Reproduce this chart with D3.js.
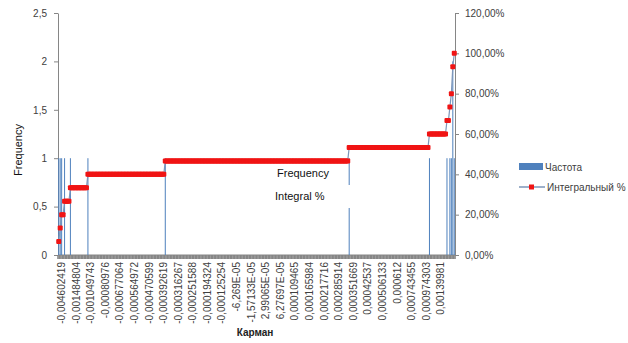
<!DOCTYPE html>
<html>
<head>
<meta charset="utf-8">
<script src="https://cdn.jsdelivr.net/npm/d3@7"></script>
<style>
  html, body { margin: 0; padding: 0; background: #fff; }
  text { font-family: "Liberation Sans", Arial, sans-serif; }
</style>
</head>
<body>
<svg id="chart" width="628" height="343"></svg>
<script>
// Histogram: number of bins on the category axis, label shown every 10th bin
const binCount = 272;
const labelEvery = 10;
const binLabels = [
  "-0,004602419", "-0,001484804", "-0,001049743", "-0,00080976", "-0,000677064",
  "-0,000564972", "-0,000470599", "-0,000392619", "-0,000316267", "-0,000251588",
  "-0,000194324", "-0,000125254", "-6,269E-05", "-1,57133E-05", "2,99065E-05",
  "6,27697E-05", "0,000109465", "0,000165984", "0,000217716", "0,000285914",
  "0,000351669", "0,00042537", "0,000506133", "0,000612", "0,000743455",
  "0,000974303", "0,00139981"
];
// Non-empty bins (index) and their frequencies; all other bins are 0
const filledBins = [0, 1, 2, 4, 8, 20, 73, 199, 254, 266, 268, 269, 270, 271];
const filledCounts = [1, 1, 1, 1, 1, 1, 1, 1, 1, 1, 1, 1, 2, 1];
const freqTicks = [0, 0.5, 1, 1.5, 2, 2.5];
const pctTicks = [0, 20, 40, 60, 80, 100, 120];
const seriesNames = ["Частота", "Интегральный %"];

// Frequency table and integral (cumulative) percentage per bin
const freq = new Array(binCount).fill(0);
filledBins.forEach((b, i) => { freq[b] = filledCounts[i]; });
const total = d3.sum(freq);
let running = 0;
const rows = freq.map((f, i) => {
  running += f;
  return { bin: i, freq: f, pct: running / total * 100 };
});

const svg = d3.select("#chart");
const plotL = 58, plotR = 455, plotT = 13, plotB = 255;
const axisGrey = "#868686", labelCol = "#404040";
const barCol = "#4f81bd", lineCol = "#7d96b9", markCol = "#f01414";

const x = d3.scaleBand().domain(d3.range(binCount)).range([plotL, plotR]).paddingInner(0).paddingOuter(0);
const yL = d3.scaleLinear().domain([0, 2.5]).range([plotB, plotT]);
const yR = d3.scaleLinear().domain([0, 120]).range([plotB, plotT]);
const cx = i => x(i) + x.bandwidth() / 2;

// Left axis
const gL = svg.append("g").attr("transform", `translate(${plotL},0)`)
  .call(d3.axisLeft(yL).tickValues(freqTicks).tickSize(4).tickSizeOuter(0).tickPadding(7)
    .tickFormat(d => String(d).replace(".", ",")));
// Right axis
const gR = svg.append("g").attr("transform", `translate(${plotR},0)`)
  .call(d3.axisRight(yR).tickValues(pctTicks).tickSize(4).tickSizeOuter(0).tickPadding(6)
    .tickFormat(d => d.toFixed(2).replace(".", ",") + "%"));
[gL, gR].forEach(g => {
  g.select(".domain").attr("stroke", axisGrey);
  g.selectAll(".tick line").attr("stroke", axisGrey);
  g.selectAll(".tick text").attr("fill", labelCol).style("font-size", "10px")
    .style("font-family", "'Liberation Sans', Arial, sans-serif");
});

// Category axis: line, a tick mark between every bin (they merge into a band), rotated labels
const gX = svg.append("g");
gX.append("line").attr("x1", plotL).attr("x2", plotR).attr("y1", plotB).attr("y2", plotB)
  .attr("stroke", axisGrey);
gX.selectAll("line.tk").data(d3.range(binCount + 1)).join("line").attr("class", "tk")
  .attr("x1", d => plotL + d * x.step()).attr("x2", d => plotL + d * x.step())
  .attr("y1", plotB).attr("y2", plotB + 4).attr("stroke", axisGrey).attr("stroke-width", 1.6);
gX.selectAll("text").data(binLabels).join("text")
  .attr("transform", (d, k) => `translate(${cx(k * labelEvery)},${plotB + 7}) rotate(-90)`)
  .attr("text-anchor", "end").attr("dy", "0.62em")
  .attr("fill", labelCol).style("font-size", "10px").text(d => d);

// Frequency bars
svg.append("g").selectAll("rect").data(rows.filter(r => r.freq > 0)).join("rect")
  .attr("x", d => cx(d.bin) - 0.5).attr("width", 1)
  .attr("y", d => yL(d.freq)).attr("height", d => yL(0) - yL(d.freq))
  .attr("fill", barCol);

// Integral % line with markers
svg.append("path").datum(rows)
  .attr("d", d3.line().x(d => cx(d.bin)).y(d => yR(d.pct)))
  .attr("fill", "none").attr("stroke", lineCol).attr("stroke-width", 1.2);
svg.append("g").selectAll("rect").data(rows).join("rect")
  .attr("x", d => cx(d.bin) - 2.5).attr("y", d => yR(d.pct) - 2.5)
  .attr("width", 5).attr("height", 5).attr("rx", 1).attr("fill", markCol);

// In-plot captions
svg.append("rect").attr("x", 268).attr("y", 185).attr("width", 84).attr("height", 23).attr("fill", "#fff");
svg.append("text").attr("x", 277).attr("y", 177).style("font-size", "11px").attr("fill", "#111").text("Frequency");
svg.append("text").attr("x", 275).attr("y", 200).style("font-size", "11px").attr("fill", "#111").text("Integral %");

// Axis titles
svg.append("text").attr("transform", "translate(22,150) rotate(-90)").attr("text-anchor", "middle")
  .style("font-size", "11px").attr("fill", "#111").text("Frequency");
svg.append("text").attr("x", 255).attr("y", 336).attr("text-anchor", "middle")
  .style("font-size", "10px").style("font-weight", "bold").attr("fill", "#222").text("Карман");

// Legend
const lg = svg.append("g");
lg.append("rect").attr("x", 519).attr("y", 163).attr("width", 24).attr("height", 7).attr("fill", barCol);
lg.append("text").attr("x", 545).attr("y", 170.5).style("font-size", "10px").attr("fill", labelCol).text(seriesNames[0]);
lg.append("line").attr("x1", 519).attr("x2", 545).attr("y1", 187).attr("y2", 187)
  .attr("stroke", lineCol).attr("stroke-width", 1.5);
lg.append("rect").attr("x", 529).attr("y", 184.5).attr("width", 5).attr("height", 5).attr("fill", markCol);
lg.append("text").attr("x", 547).attr("y", 190.5).style("font-size", "10px").attr("fill", labelCol).text(seriesNames[1]);
</script>
</body>
</html>
